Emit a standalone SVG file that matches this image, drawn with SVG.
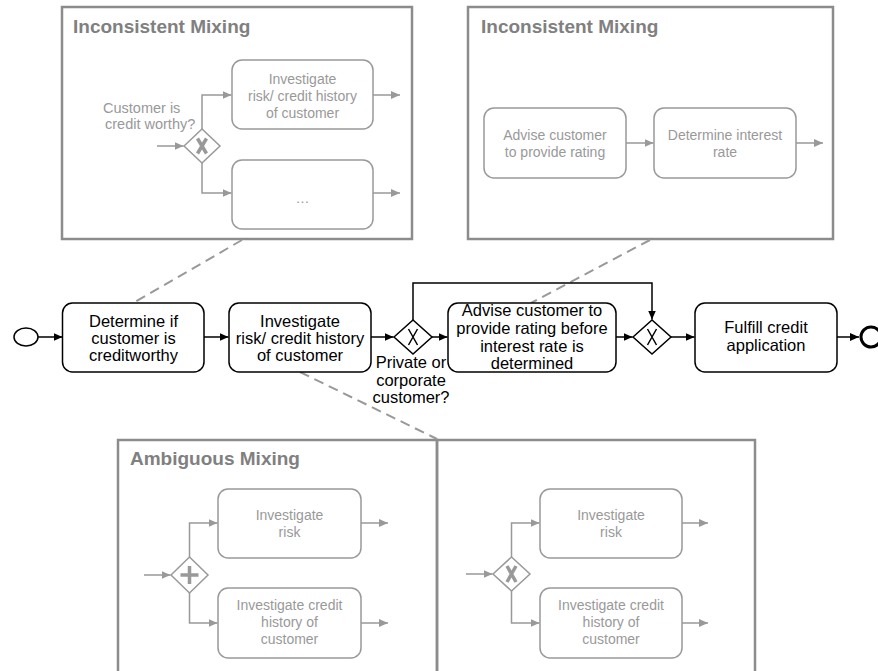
<svg xmlns="http://www.w3.org/2000/svg" width="878" height="671" viewBox="0 0 878 671">
<style>
.frame{fill:none;stroke:#8c8c8c;stroke-width:2.5}
.title{font-family:"Liberation Sans",Arial,sans-serif;font-weight:bold;font-size:19px;fill:#808080}
.gtask{fill:#fff;stroke:#999;stroke-width:1.5}
.gtxt{font-family:"Liberation Sans",Arial,sans-serif;font-size:14px;fill:#999;text-anchor:middle}
.gl{font-family:"Liberation Sans",Arial,sans-serif;font-size:14.5px;fill:#999}
.task{fill:#fff;stroke:#000;stroke-width:1.5}
.txt{font-family:"Liberation Sans",Arial,sans-serif;font-size:16.5px;fill:#000;text-anchor:middle}
.flow{fill:none;stroke:#000;stroke-width:1.5;marker-end:url(#ab)}
.gflow{fill:none;stroke:#999;stroke-width:1.5;marker-end:url(#ag)}
.gw{fill:#fff;stroke:#000;stroke-width:1.5}
.ggw{fill:#fff;stroke:#999;stroke-width:1.5}
.xm{fill:none;stroke:#000;stroke-width:1.5}
.gxm{fill:none;stroke:#999;stroke-width:3.5}
.dash{fill:none;stroke:#999;stroke-width:2;stroke-dasharray:10 6}
</style>
<defs>
<marker id="ab" markerWidth="10" markerHeight="8" refX="9" refY="4" orient="auto" markerUnits="userSpaceOnUse"><path d="M0,0 L9,4 L0,8 z" fill="#000"/></marker>
<marker id="ag" markerWidth="10" markerHeight="8" refX="9" refY="4" orient="auto" markerUnits="userSpaceOnUse"><path d="M0,0 L9,4 L0,8 z" fill="#999"/></marker>
</defs>

<g id="frame-inconsistent-1">
<rect class="frame" x="62" y="7" width="350" height="232"/>
<text class="title" x="73" y="33">Inconsistent Mixing</text>
</g>
<g id="frame-inconsistent-2">
<rect class="frame" x="468" y="7" width="365" height="232"/>
<text class="title" x="481" y="33">Inconsistent Mixing</text>
</g>
<g id="frame-ambiguous-1">
<rect class="frame" x="118" y="440" width="319" height="250"/>
<text class="title" x="130" y="465">Ambiguous Mixing</text>
</g>
<g id="frame-ambiguous-2">
<rect class="frame" x="437" y="440" width="318" height="250"/>
</g>

<g id="connectors">
<!-- dashed associations -->
<line class="dash" x1="242" y1="240" x2="133" y2="303"/>
<line class="dash" x1="650" y1="240" x2="531" y2="303"/>
<line class="dash" x1="300" y1="372" x2="437" y2="439"/>
<!-- main flow -->
<line class="flow" x1="38" y1="337" x2="62.5" y2="337"/>
<line class="flow" x1="204" y1="337" x2="228.5" y2="337"/>
<line class="flow" x1="371" y1="337" x2="393.5" y2="337"/>
<line class="flow" x1="432" y1="337" x2="447.5" y2="337"/>
<line class="flow" x1="616" y1="337" x2="632.5" y2="337"/>
<line class="flow" x1="671" y1="337" x2="694.5" y2="337"/>
<line class="flow" x1="837" y1="337" x2="859" y2="337"/>
<polyline class="flow" points="413,320 413,283 652,283 652,319.5"/>
<!-- top-left gray -->
<line class="gflow" x1="157" y1="146" x2="183.5" y2="146"/>
<polyline class="gflow" points="202,129 202,95 231.5,95"/>
<polyline class="gflow" points="202,163 202,193 231.5,193"/>
<line class="gflow" x1="373" y1="95" x2="400" y2="95"/>
<line class="gflow" x1="373" y1="193" x2="400" y2="193"/>
<!-- top-right gray -->
<line class="gflow" x1="626" y1="143" x2="653.5" y2="143"/>
<line class="gflow" x1="796" y1="143" x2="823" y2="143"/>
<!-- bottom-left gray -->
<line class="gflow" x1="144" y1="575" x2="170.5" y2="575"/>
<polyline class="gflow" points="189.5,557 189.5,523 217.5,523"/>
<polyline class="gflow" points="189.5,593 189.5,623 217.5,623"/>
<line class="gflow" x1="361" y1="523" x2="388" y2="523"/>
<line class="gflow" x1="361" y1="623" x2="388" y2="623"/>
<!-- bottom-right gray -->
<line class="gflow" x1="466" y1="574" x2="492.5" y2="574"/>
<polyline class="gflow" points="511.5,557 511.5,523 539.5,523"/>
<polyline class="gflow" points="511.5,591 511.5,623 539.5,623"/>
<line class="gflow" x1="682" y1="523" x2="708" y2="523"/>
<line class="gflow" x1="682" y1="623" x2="708" y2="623"/>
</g>

<!-- top-left gray nodes -->
<g id="g1-gateway">
<polygon class="ggw" points="184,146 202,129 220,146 202,163"/>
<path class="gxm" d="M197.5,138.5 L206.5,153.5 M206.5,138.5 L197.5,153.5"/>
<text class="gl" x="103" y="112.5">Customer is</text>
<text class="gl" x="105" y="129">credit worthy?</text>
</g>
<g id="g1-task-investigate">
<rect class="gtask" x="232" y="60" width="141" height="69" rx="10"/>
<text class="gtxt" x="302.5" y="84">Investigate</text>
<text class="gtxt" x="302.5" y="101">risk/ credit history</text>
<text class="gtxt" x="302.5" y="117.5">of customer</text>
</g>
<g id="g1-task-other">
<rect class="gtask" x="232" y="160" width="141" height="69" rx="10"/>
<text class="gtxt" x="302.5" y="203">…</text>
</g>

<!-- top-right gray nodes -->
<g id="g2-task-advise">
<rect class="gtask" x="484" y="108" width="142" height="70" rx="10"/>
<text class="gtxt" x="555" y="140">Advise customer</text>
<text class="gtxt" x="555" y="157">to provide rating</text>
</g>
<g id="g2-task-determine">
<rect class="gtask" x="654" y="108" width="142" height="70" rx="10"/>
<text class="gtxt" x="725" y="140">Determine interest</text>
<text class="gtxt" x="725" y="157">rate</text>
</g>

<!-- main flow nodes -->
<g id="start">
<ellipse cx="26" cy="337" rx="12" ry="9" fill="#fff" stroke="#000" stroke-width="1.5"/>
</g>
<g id="task-determine">
<rect class="task" x="62.5" y="303" width="141.5" height="69" rx="10"/>
<text class="txt" x="133.5" y="327">Determine if</text>
<text class="txt" x="133.5" y="344">customer is</text>
<text class="txt" x="133.5" y="361">creditworthy</text>
</g>
<g id="task-investigate">
<rect class="task" x="229" y="303" width="142" height="69" rx="10"/>
<text class="txt" x="300" y="327">Investigate</text>
<text class="txt" x="300" y="344">risk/ credit history</text>
<text class="txt" x="300" y="361">of customer</text>
</g>
<g id="gateway-split">
<polygon class="gw" points="394,337 413,320 432,337 413,354"/>
<path class="xm" d="M408.5,329 L417.5,345 M417.5,329 L408.5,345"/>
<text class="txt" x="411" y="368">Private or</text>
<text class="txt" x="411" y="385.5">corporate</text>
<text class="txt" x="411" y="403">customer?</text>
</g>
<g id="task-advise">
<rect class="task" x="448" y="303" width="168" height="69" rx="10"/>
<text class="txt" x="532" y="316">Advise customer to</text>
<text class="txt" x="532" y="334">provide rating before</text>
<text class="txt" x="532" y="351.5">interest rate is</text>
<text class="txt" x="532" y="369">determined</text>
</g>
<g id="gateway-join">
<polygon class="gw" points="633,337 652,320 671,337 652,354"/>
<path class="xm" d="M647.5,329 L656.5,345 M656.5,329 L647.5,345"/>
</g>
<g id="task-fulfill">
<rect class="task" x="695" y="303" width="142" height="69" rx="10"/>
<text class="txt" x="766" y="333">Fulfill credit</text>
<text class="txt" x="766" y="351">application</text>
</g>
<g id="end">
<circle cx="871" cy="337" r="10" fill="#fff" stroke="#000" stroke-width="3"/>
</g>

<!-- bottom-left gray nodes -->
<g id="g3-gateway">
<polygon class="ggw" points="171,575 189.5,557 208,575 189.5,593"/>
<path class="gxm" d="M189.5,566 V584 M180.5,575 H198.5"/>
</g>
<g id="g3-task-risk">
<rect class="gtask" x="218" y="489" width="143" height="69" rx="10"/>
<text class="gtxt" x="289.5" y="520">Investigate</text>
<text class="gtxt" x="289.5" y="537">risk</text>
</g>
<g id="g3-task-history">
<rect class="gtask" x="218" y="588" width="143" height="70" rx="10"/>
<text class="gtxt" x="289.5" y="610">Investigate credit</text>
<text class="gtxt" x="289.5" y="627">history of</text>
<text class="gtxt" x="289.5" y="643.5">customer</text>
</g>

<!-- bottom-right gray nodes -->
<g id="g4-gateway">
<polygon class="ggw" points="493,574 511.5,557 530,574 511.5,591"/>
<path class="gxm" d="M507,566 L516,582 M516,566 L507,582"/>
</g>
<g id="g4-task-risk">
<rect class="gtask" x="540" y="489" width="142" height="69" rx="10"/>
<text class="gtxt" x="611" y="520">Investigate</text>
<text class="gtxt" x="611" y="537">risk</text>
</g>
<g id="g4-task-history">
<rect class="gtask" x="540" y="588" width="142" height="70" rx="10"/>
<text class="gtxt" x="611" y="610">Investigate credit</text>
<text class="gtxt" x="611" y="627">history of</text>
<text class="gtxt" x="611" y="643.5">customer</text>
</g>
</svg>
